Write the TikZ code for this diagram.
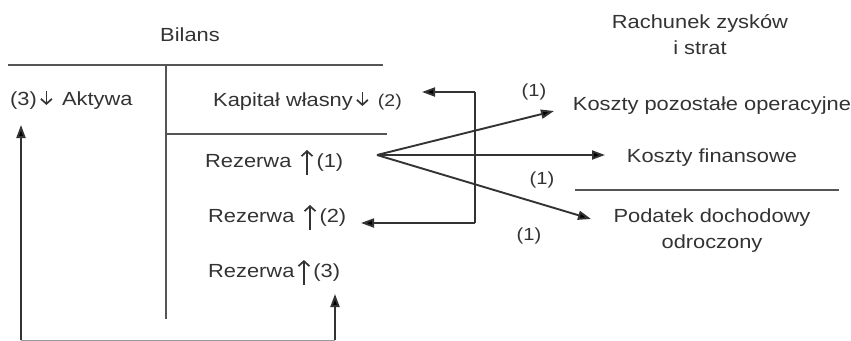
\documentclass[tikz,border=0pt]{standalone}
\usepackage{fontspec}
\setmainfont[FakeStretch=1.15]{Liberation Sans}
\usetikzlibrary{arrows.meta}
\definecolor{ink}{HTML}{333333}
\definecolor{rule}{HTML}{555555}
\newcommand{\dnarr}{\hbox{\,\tikz[baseline=0pt,x=1pt,y=1pt]\draw[ink,line width=1.7pt,-{Straight Barb[length=5pt,width=11pt]}] (0,14.5)--(0,0);\,}}
\newcommand{\uparr}{\hbox{\,\tikz[baseline=0pt,x=1pt,y=1pt]\draw[ink,line width=1.7pt,-{Straight Barb[length=5pt,width=11pt]}] (0,-8)--(0,17);\,}}
\begin{document}
\begin{tikzpicture}[x=1pt,y=-1pt,
  every node/.style={text=ink,font=\fontsize{19}{26}\selectfont,inner sep=0pt},
  lbl/.style={font=\fontsize{17.5}{20}\selectfont},
  conn/.style={draw=ink,line width=1.9pt,-{Triangle[length=13pt,width=9pt]}},
  ruleline/.style={draw=rule,line width=1.5pt}]
\useasboundingbox (0,0) rectangle (851,340);
% titles
\node (bil) at (190,35) {Bilans};
\node[align=center] (rzis) at (700,35) {Rachunek zysków\\i strat};
% balance sheet lines
\coordinate (tl) at (8,65);
\coordinate (tr) at (383,65);
\coordinate (vt) at (166,65);
\coordinate (vb) at (166,319);
\coordinate (ml) at (166,134);
\coordinate (mr) at (387,134);
\draw[ruleline] (tl) -- (tr);
\draw[ruleline] (vt) -- (vb);
\draw[ruleline] (ml) -- (mr);
% texts
\node[anchor=base west] (akt) at (10,105) {(3)\dnarr\ Aktywa};
\node[anchor=base west] (kw) at (213,106) {Kapitał własny\dnarr\ {\fontsize{17}{20}\selectfont(2)}};
\node[anchor=base west] (r1) at (205,167) {Rezerwa \uparr(1)};
\node[anchor=base west] (r2) at (208,222) {Rezerwa \uparr(2)};
\node[anchor=base west] (r3) at (208,277) {Rezerwa\uparr(3)};
% P&L
\node (kpo) at (712,106) {Koszty pozostałe operacyjne};
\node (kf) at (712,158) {Koszty finansowe};
\node[align=center] (pdo) at (712,231) {Podatek dochodowy\\odroczony};
\coordinate (pl) at (575,190);
\coordinate (pr) at (839,190);
\draw[ruleline] (pl) -- (pr);
% fan
\coordinate (fo) at (377,155);
\coordinate (f1) at (554,111);
\coordinate (f2) at (605,155);
\coordinate (f3) at (591,219);
\draw[conn] (fo) -- (f1);
\draw[conn] (fo) -- (f2);
\draw[conn] (fo) -- (f3);
\node[lbl] (l1) at (534,92) {(1)};
\node[lbl] (l2) at (542,180) {(1)};
\node[lbl] (l3) at (529,236) {(1)};
% bracket
\coordinate (bt) at (475,92);
\coordinate (bb) at (475,223);
\coordinate (bta) at (422,92);
\coordinate (bba) at (361,223);
\draw[draw=ink,line width=1.9pt] (bt) -- (bb);
\draw[conn] (bt) -- (bta);
\draw[conn] (bb) -- (bba);
% bottom arrows
\coordinate (lb) at (21,340);
\coordinate (lt) at (21,125);
\coordinate (rb) at (335,340);
\coordinate (rt) at (335,294);
\draw[conn] (lb) -- (lt);
\draw[conn] (rb) -- (rt);
\draw[draw=rule!60,line width=0.8pt] (lb) -- (rb);
\end{tikzpicture}
\end{document}
